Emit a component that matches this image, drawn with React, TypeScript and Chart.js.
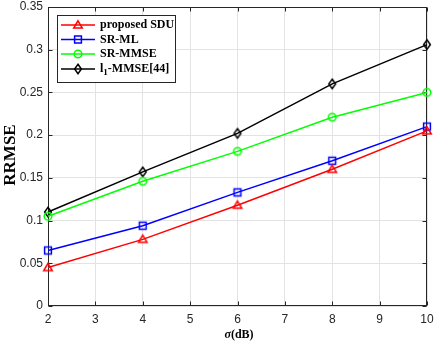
import React, { useEffect, useRef } from 'react';
import { Chart, registerables } from 'chart.js';

Chart.register(...registerables);

const sigmaValues = [2, 4, 6, 8, 10];
const proposedSDU = [0.045, 0.078, 0.118, 0.16, 0.205];
const srML = [0.065, 0.094, 0.133, 0.17, 0.21];
const srMMSE = [0.105, 0.146, 0.181, 0.221, 0.25];
const l1MMSE = [0.11, 0.157, 0.202, 0.26, 0.306];
const seriesLabels = ['proposed SDU', 'SR-ML', 'SR-MMSE', 'l1-MMSE[44]'];
const yTitle = 'RRMSE';
const xTitleSymbol = 'σ';
const xTitleUnit = '(dB)';

const AXIS_COLOR = '#262626';
const SERIES_COLORS = ['#ff0000', '#0000ff', '#00ff00', '#000000'];
const MARKER_KINDS = ['triangle', 'square', 'circle', 'diamond'];

function drawMarker(ctx: CanvasRenderingContext2D, kind: string, x: number, y: number, color: string) {
  ctx.save();
  ctx.strokeStyle = color;
  ctx.lineWidth = 1.5;
  ctx.beginPath();
  if (kind === 'triangle') {
    ctx.moveTo(x, y - 4.2);
    ctx.lineTo(x + 4.3, y + 3);
    ctx.lineTo(x - 4.3, y + 3);
    ctx.closePath();
  } else if (kind === 'square') {
    ctx.rect(x - 3.4, y - 3.4, 6.8, 6.8);
  } else if (kind === 'circle') {
    ctx.arc(x, y, 3.8, 0, Math.PI * 2);
  } else if (kind === 'diamond') {
    ctx.moveTo(x, y - 4.8);
    ctx.lineTo(x + 3.4, y);
    ctx.lineTo(x, y + 4.8);
    ctx.lineTo(x - 3.4, y);
    ctx.closePath();
  }
  ctx.stroke();
  ctx.restore();
}

function makeMarkerImage(kind: string, color: string): HTMLCanvasElement {
  const c = document.createElement('canvas');
  c.width = 14;
  c.height = 14;
  const ctx = c.getContext('2d')!;
  drawMarker(ctx, kind, 7, 7, color);
  return c;
}

const framePlugin = {
  id: 'framePlugin',
  beforeDatasetsDraw(chart: any) {
    const ctx = chart.ctx as CanvasRenderingContext2D;
    const { left, right, top, bottom } = chart.chartArea;
    const xs = chart.scales.x;
    const ys = chart.scales.y;
    ctx.save();
    ctx.strokeStyle = AXIS_COLOR;
    ctx.lineWidth = 1;
    const L = Math.round(left) + 0.5;
    const T = Math.round(top) + 0.5;
    const R = Math.round(right) - 0.5;
    const B = Math.round(bottom) - 0.5;
    ctx.strokeRect(L, T, R - L, B - T);
    const tl = 4;
    ctx.beginPath();
    xs.ticks.forEach((t: any) => {
      const px = Math.round(xs.getPixelForValue(t.value)) + 0.5;
      ctx.moveTo(px, B);
      ctx.lineTo(px, B - tl);
      ctx.moveTo(px, T);
      ctx.lineTo(px, T + tl);
    });
    ys.ticks.forEach((t: any) => {
      const py = Math.round(ys.getPixelForValue(t.value)) + 0.5;
      ctx.moveTo(L, py);
      ctx.lineTo(L + tl, py);
      ctx.moveTo(R, py);
      ctx.lineTo(R - tl, py);
    });
    ctx.stroke();
    ctx.restore();
  },
  afterDraw(chart: any) {
    const ctx = chart.ctx as CanvasRenderingContext2D;
    ctx.save();
    // y title
    ctx.fillStyle = '#000';
    ctx.font = 'bold 17px "Liberation Serif"';
    ctx.textAlign = 'center';
    ctx.textBaseline = 'middle';
    ctx.save();
    ctx.translate(11, 155);
    ctx.rotate(-Math.PI / 2);
    ctx.fillText(yTitle, 0, 0);
    ctx.restore();

    // x title
    ctx.textAlign = 'left';
    ctx.textBaseline = 'alphabetic';
    ctx.font = 'italic bold 12px "Liberation Serif"';
    const w1 = ctx.measureText(xTitleSymbol).width;
    ctx.font = 'bold 12px "Liberation Serif"';
    const w2 = ctx.measureText(xTitleUnit).width;
    const cx = 239;
    const sx = cx - (w1 + w2) / 2;
    const ty = 338;
    ctx.font = 'italic bold 12px "Liberation Serif"';
    ctx.fillText(xTitleSymbol, sx, ty);
    ctx.font = 'bold 12px "Liberation Serif"';
    ctx.fillText(xTitleUnit, sx + w1, ty);

    // legend
    const lx = 57, ly = 15, lw = 118, lh = 67;
    ctx.fillStyle = '#fff';
    ctx.fillRect(lx, ly, lw, lh);
    ctx.strokeStyle = AXIS_COLOR;
    ctx.lineWidth = 1;
    ctx.strokeRect(lx + 0.5, ly + 0.5, lw, lh);
    const rowYs = [25, 39.5, 54, 69];
    chart.data.datasets.forEach((ds: any, i: number) => {
      const ry = rowYs[i];
      ctx.strokeStyle = ds.borderColor;
      ctx.lineWidth = 1.5;
      ctx.beginPath();
      ctx.moveTo(61, ry);
      ctx.lineTo(95, ry);
      ctx.stroke();
      drawMarker(ctx, MARKER_KINDS[i], 78, ry, ds.borderColor);
      ctx.fillStyle = '#000';
      ctx.textBaseline = 'middle';
      ctx.textAlign = 'left';
      const label: string = ds.label;
      if (label.startsWith('l1')) {
        ctx.font = 'bold 12px "Liberation Serif"';
        let x = 100;
        ctx.fillText('l', x, ry);
        x += ctx.measureText('l').width;
        ctx.font = 'bold 9px "Liberation Serif"';
        ctx.fillText('1', x, ry + 4);
        x += ctx.measureText('1').width;
        ctx.font = 'bold 12px "Liberation Serif"';
        ctx.fillText(label.slice(2), x, ry);
      } else {
        ctx.font = 'bold 12px "Liberation Serif"';
        ctx.fillText(label, 100, ry);
      }
    });
    ctx.restore();
  },
};

export default function App() {
  const canvasRef = useRef<HTMLCanvasElement | null>(null);

  useEffect(() => {
    const canvas = canvasRef.current;
    if (!canvas) return;
    const series = [proposedSDU, srML, srMMSE, l1MMSE];
    const chart = new Chart(canvas, {
      type: 'line',
      data: {
        datasets: series.map((vals, i) => ({
          label: seriesLabels[i],
          data: sigmaValues.map((s, j) => ({ x: s, y: vals[j] })),
          borderColor: SERIES_COLORS[i],
          backgroundColor: 'transparent',
          borderWidth: 1.5,
          pointStyle: makeMarkerImage(MARKER_KINDS[i], SERIES_COLORS[i]) as any,
          pointRadius: 5,
          tension: 0,
          fill: false,
          clip: false as any,
        })),
      },
      options: {
        animation: false,
        responsive: false,
        maintainAspectRatio: false,
        layout: { padding: { top: 7, right: 9, left: 0, bottom: 0 } },
        plugins: {
          legend: { display: false },
          tooltip: { enabled: false },
        },
        scales: {
          x: {
            type: 'linear',
            min: 2,
            max: 10,
            ticks: {
              stepSize: 1,
              color: AXIS_COLOR,
              font: { family: '"Liberation Sans", Arial', size: 12 },
              padding: 6,
              maxRotation: 0,
            },
            grid: { color: '#e3e3e3', drawTicks: false },
            border: { display: false },
            afterFit(scale: any) {
              scale.height = 37;
              scale.paddingLeft = 0;
              scale.paddingRight = 0;
            },
          },
          y: {
            type: 'linear',
            min: 0,
            max: 0.35,
            ticks: {
              stepSize: 0.05,
              color: AXIS_COLOR,
              font: { family: '"Liberation Sans", Arial', size: 12 },
              padding: 5,
              callback: (v: any) => String(parseFloat(Number(v).toFixed(2))),
            },
            grid: { color: '#e3e3e3', drawTicks: false },
            border: { display: false },
            afterFit(scale: any) {
              scale.width = 48;
              scale.paddingTop = 0;
              scale.paddingBottom = 0;
            },
          },
        },
      },
      plugins: [framePlugin],
    });
    return () => chart.destroy();
  }, []);

  return (
    <div style={{ position: 'absolute', left: 0, top: 0, width: 436, height: 343, background: '#fff' }}>
      <canvas ref={canvasRef} width={436} height={343} style={{ display: 'block' }} />
    </div>
  );
}
